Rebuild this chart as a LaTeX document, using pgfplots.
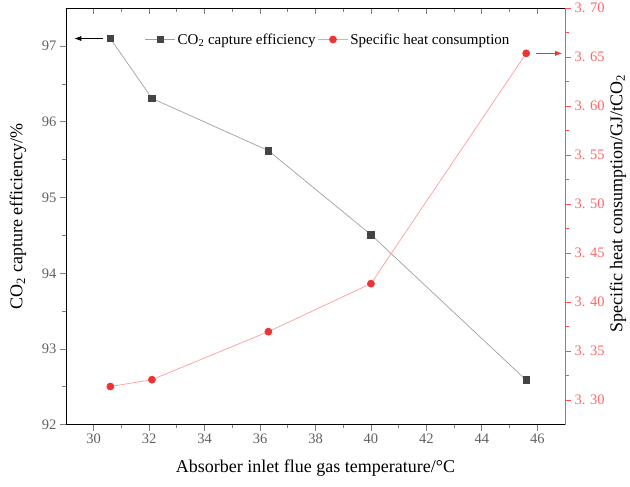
\documentclass[border=0pt]{standalone}
\usepackage{fontspec}
\setmainfont{Liberation Serif}
\usepackage{pgfplots}
\pgfplotsset{compat=1.18}
\usetikzlibrary{arrows.meta}
\definecolor{lgray}{HTML}{A0A0A0}
\definecolor{dgray}{HTML}{444444}
\definecolor{tgray}{HTML}{606060}
\definecolor{mred}{HTML}{EE3333}
\definecolor{lred}{HTML}{FF9C9C}
\definecolor{ared}{HTML}{FF5050}
\definecolor{tred}{HTML}{FF6666}
\pgfplotsset{
  base/.style={
    scale only axis, width=499pt, height=416.5pt,
    xmin=29, xmax=47,
    xtick={30,32,...,46}, minor x tick num=1,
    major tick length=6pt, minor tick length=3.5pt,
    tick style={line width=0.8pt},
    axis line style={line width=0.9pt},
    /pgf/number format/assume math mode=true,
    ticklabel style={font=\fontsize{14.5}{16}\selectfont},
    label style={font=\fontsize{18}{21}\selectfont},
  }
}
\begin{document}
\begin{tikzpicture}
% left axis + bottom x axis
\begin{axis}[base, name=main,
  ymin=92, ymax=97.5, ytick={92,...,97}, minor y tick num=1,
  axis x line*=bottom, axis y line*=left, tick align=outside,
  xticklabel style={text=tgray}, yticklabel style={text=tgray},
  xlabel={Absorber inlet flue gas temperature/\textdegree C},
  ylabel={CO\textsubscript{2} capture efficiency/\%},
  ylabel style={at={(axis description cs:-0.096,0.5)}, anchor=center},
  xlabel style={at={(axis description cs:0.5,-0.105)}, anchor=center},
]
\addplot[lgray, line width=0.7pt, mark=square*, mark size=3.3pt,
  mark options={fill=dgray, draw=dgray}]
  coordinates {(30.6,97.10) (32.1,96.31) (36.3,95.62) (40.0,94.51) (45.6,92.59)};
\draw[-{Latex[length=7pt,width=5pt]}, line width=0.7pt, black]
  (axis cs:30.32,97.1) -- (axis cs:29.3,97.1);
\end{axis}
% top axis with inward ticks
\begin{axis}[base,
  ymin=92, ymax=97.5,
  axis x line*=top, axis y line=none, tick align=inside,
  xticklabels={},
]
\addplot[draw=none] coordinates {(30,93)};
\end{axis}
% right axis
\begin{axis}[base,
  ymin=3.275, ymax=3.70,
  ytick={3.30,3.35,3.40,3.45,3.50,3.55,3.60,3.65,3.70},
  yticklabels={3. 30,3. 35,3. 40,3. 45,3. 50,3. 55,3. 60,3. 65,3. 70},
  minor y tick num=1,
  axis x line=none, axis y line*=right, tick align=outside,
  y axis line style={ared}, y tick style={ared},
  yticklabel style={text=tred},
  ylabel={Specific heat consumption/GJ/tCO\textsubscript{2}},
  ylabel style={at={(axis description cs:1.106,0.53)}, anchor=center},
  legend style={at={(axis description cs:0.152,0.925)}, anchor=west, draw=none, fill=none,
    legend columns=-1, font=\fontsize{15}{17}\selectfont,
    /tikz/every even column/.append style={column sep=0pt}},
  legend image code/.code={
    \draw[#1, mark=none] (0pt,0pt) -- (30pt,0pt);
    \draw[#1, only marks] plot coordinates {(15pt,0pt)};
  },
]
\addlegendimage{lgray, line width=0.7pt, mark=square*, mark size=3.3pt, mark options={fill=dgray, draw=dgray}}
\addlegendentry{CO\textsubscript{2} capture efficiency}
\addplot[lred, line width=0.7pt, mark=*, mark size=3.5pt,
  mark options={fill=mred, draw=mred}]
  coordinates {(30.6,3.314) (32.1,3.321) (36.3,3.370) (40.0,3.419) (45.6,3.654)};
\addlegendentry{Specific heat consumption}
\draw[-{Latex[length=7pt,width=5pt]}, line width=0.7pt, mred]
  (axis cs:45.95,3.654) -- (axis cs:46.9,3.654);
\end{axis}
\path (main.south west) ++(-66pt,-61.5pt) rectangle ++(630pt,483pt);
\end{tikzpicture}
\end{document}
